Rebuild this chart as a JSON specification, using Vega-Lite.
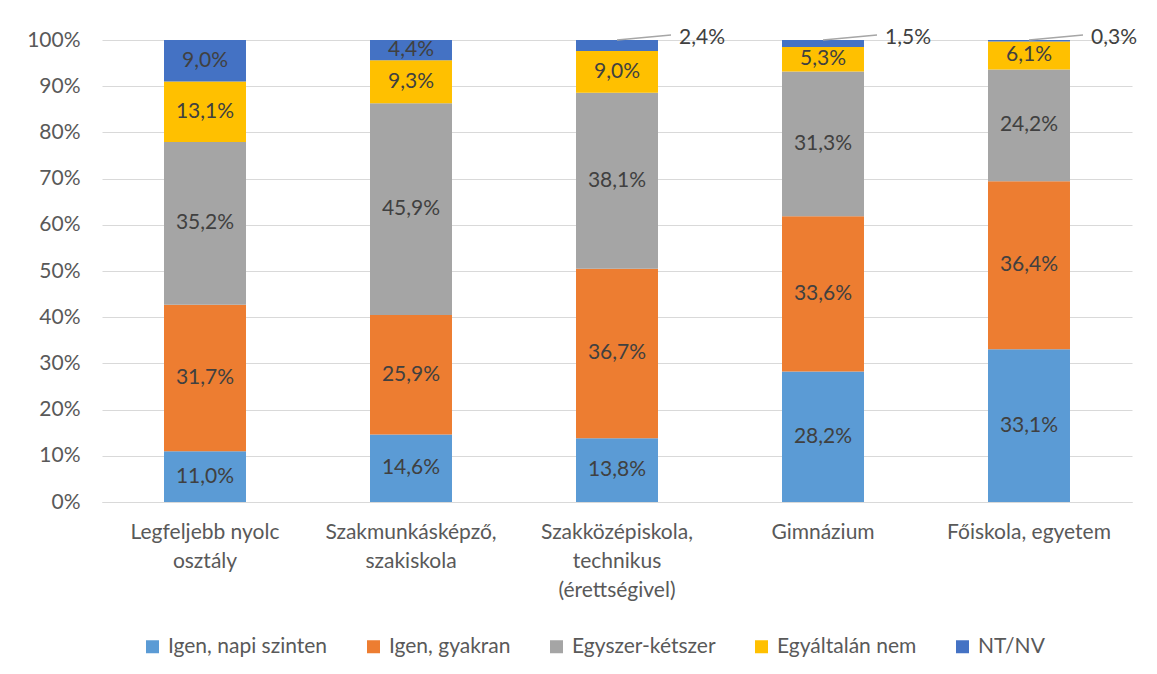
{
  "$schema": "https://vega.github.io/schema/vega-lite/v6.json",
  "width": 1030,
  "height": 462,
  "autosize": {"type": "none"},
  "padding": {"left": 102, "top": 40, "right": 25, "bottom": 172},
  "background": "white",
  "config": {
    "view": {"stroke": null},
    "font": "Lato",
    "text": {"font": "Lato"}
  },
  "data": {
    "values": [
      {"cat": "Legfeljebb nyolc osztály", "series": "Igen, napi szinten", "value": 11.0},
      {"cat": "Legfeljebb nyolc osztály", "series": "Igen, gyakran", "value": 31.7},
      {"cat": "Legfeljebb nyolc osztály", "series": "Egyszer-kétszer", "value": 35.2},
      {"cat": "Legfeljebb nyolc osztály", "series": "Egyáltalán nem", "value": 13.1},
      {"cat": "Legfeljebb nyolc osztály", "series": "NT/NV", "value": 9.0},
      {"cat": "Szakmunkásképző, szakiskola", "series": "Igen, napi szinten", "value": 14.6},
      {"cat": "Szakmunkásképző, szakiskola", "series": "Igen, gyakran", "value": 25.9},
      {"cat": "Szakmunkásképző, szakiskola", "series": "Egyszer-kétszer", "value": 45.9},
      {"cat": "Szakmunkásképző, szakiskola", "series": "Egyáltalán nem", "value": 9.3},
      {"cat": "Szakmunkásképző, szakiskola", "series": "NT/NV", "value": 4.4},
      {"cat": "Szakközépiskola, technikus (érettségivel)", "series": "Igen, napi szinten", "value": 13.8},
      {"cat": "Szakközépiskola, technikus (érettségivel)", "series": "Igen, gyakran", "value": 36.7},
      {"cat": "Szakközépiskola, technikus (érettségivel)", "series": "Egyszer-kétszer", "value": 38.1},
      {"cat": "Szakközépiskola, technikus (érettségivel)", "series": "Egyáltalán nem", "value": 9.0},
      {"cat": "Szakközépiskola, technikus (érettségivel)", "series": "NT/NV", "value": 2.4},
      {"cat": "Gimnázium", "series": "Igen, napi szinten", "value": 28.2},
      {"cat": "Gimnázium", "series": "Igen, gyakran", "value": 33.6},
      {"cat": "Gimnázium", "series": "Egyszer-kétszer", "value": 31.3},
      {"cat": "Gimnázium", "series": "Egyáltalán nem", "value": 5.3},
      {"cat": "Gimnázium", "series": "NT/NV", "value": 1.5},
      {"cat": "Főiskola, egyetem", "series": "Igen, napi szinten", "value": 33.1},
      {"cat": "Főiskola, egyetem", "series": "Igen, gyakran", "value": 36.4},
      {"cat": "Főiskola, egyetem", "series": "Egyszer-kétszer", "value": 24.2},
      {"cat": "Főiskola, egyetem", "series": "Egyáltalán nem", "value": 6.1},
      {"cat": "Főiskola, egyetem", "series": "NT/NV", "value": 0.3}
    ]
  },
  "transform": [
    {"calculate": "indexof(['Igen, napi szinten','Igen, gyakran','Egyszer-kétszer','Egyáltalán nem','NT/NV'], datum.series)", "as": "ord"},
    {"stack": "value", "groupby": ["cat"], "sort": [{"field": "ord", "order": "ascending"}], "offset": "normalize", "as": ["y0", "y1"]},
    {"calculate": "(datum.y0 + datum.y1) / 2", "as": "mid"},
    {"calculate": "replace(format(datum.value, '.1f'), '.', ',') + '%'", "as": "label"},
    {"calculate": "datum.series == 'NT/NV' && datum.value < 3", "as": "outside"}
  ],
  "encoding": {
    "x": {
      "field": "cat",
      "type": "nominal",
      "sort": null,
      "scale": {"paddingInner": 0.602, "paddingOuter": 0.301},
      "axis": {
        "title": null,
        "labelAngle": 0,
        "labelFont": "Lato",
        "labelFontSize": 21,
        "labelColor": "#595959",
        "labelPadding": 19,
        "labelLineHeight": 29,
        "labelBaseline": "top",
        "ticks": false,
        "domain": true,
        "domainColor": "#d9d9d9",
        "labelExpr": "datum.label == 'Legfeljebb nyolc osztály' ? ['Legfeljebb nyolc', 'osztály'] : datum.label == 'Szakmunkásképző, szakiskola' ? ['Szakmunkásképző,', 'szakiskola'] : datum.label == 'Szakközépiskola, technikus (érettségivel)' ? ['Szakközépiskola,', 'technikus', '(érettségivel)'] : datum.label"
      }
    }
  },
  "layer": [
    {
      "mark": {"type": "bar"},
      "encoding": {
        "y": {
          "field": "y0",
          "type": "quantitative",
          "scale": {"domain": [0, 1]},
          "axis": {
            "title": null,
            "format": ".0%",
            "values": [0, 0.1, 0.2, 0.3, 0.4, 0.5, 0.6, 0.7, 0.8, 0.9, 1],
            "labelFont": "Lato",
            "labelFontSize": 21,
            "labelColor": "#595959",
            "labelPadding": 22,
            "ticks": false,
            "domain": false,
            "grid": true,
            "gridColor": "#d9d9d9",
            "gridWidth": 1
          }
        },
        "y2": {"field": "y1"},
        "color": {
          "field": "series",
          "type": "nominal",
          "scale": {
            "domain": ["Igen, napi szinten", "Igen, gyakran", "Egyszer-kétszer", "Egyáltalán nem", "NT/NV"],
            "range": ["#5B9BD5", "#ED7D31", "#A5A5A5", "#FFC000", "#4472C4"]
          },
          "legend": {
            "title": null,
            "orient": "none",
            "direction": "horizontal",
            "legendX": 40,
            "legendY": 596,
            "symbolType": "square",
            "symbolSize": 169,
            "symbolStrokeWidth": 0,
            "labelFont": "Lato",
            "labelFontSize": 21,
            "labelColor": "#595959",
            "labelOffset": 5,
            "columnPadding": 35,
            "padding": 0
          }
        }
      }
    },
    {
      "transform": [{"filter": "!datum.outside"}],
      "mark": {"type": "text", "fontSize": 21, "color": "#404040", "baseline": "middle"},
      "encoding": {
        "y": {"field": "mid", "type": "quantitative"},
        "text": {"field": "label"}
      }
    },
    {
      "transform": [{"filter": "datum.outside"}],
      "mark": {"type": "rule", "color": "#a6a6a6", "strokeWidth": 1.5, "x2Offset": 54, "y2Offset": -5},
      "encoding": {
        "y": {"field": "y1", "type": "quantitative"},
        "y2": {"field": "y1"},
        "x2": {"field": "cat", "bandPosition": 0.5}
      }
    },
    {
      "transform": [{"filter": "datum.outside"}],
      "mark": {"type": "text", "fontSize": 21, "color": "#404040", "baseline": "middle", "align": "left", "dx": 62, "dy": -2},
      "encoding": {
        "y": {"field": "y1", "type": "quantitative"},
        "text": {"field": "label"}
      }
    }
  ]
}
